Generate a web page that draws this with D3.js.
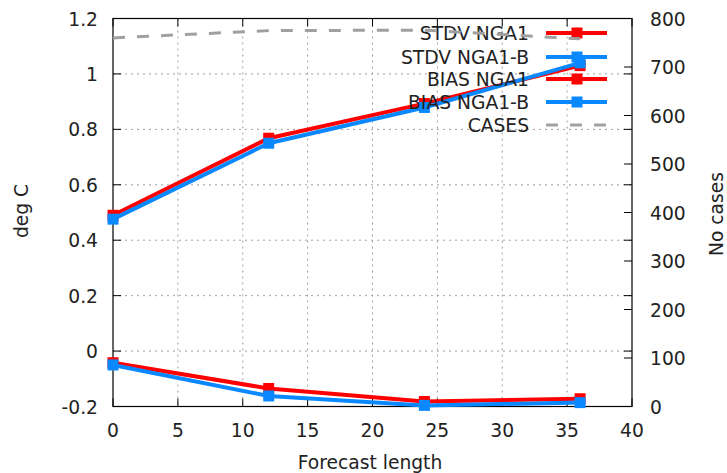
<!DOCTYPE html>
<html>
<head>
<meta charset="utf-8">
<script src="https://cdn.jsdelivr.net/npm/d3@7"></script>
<style>
  body { margin: 0; background: #fff; }
  text { font-family: "DejaVu Sans", sans-serif; fill: #222; }
</style>
</head>
<body>
<svg id="chart" width="727" height="473"></svg>
<script>
// forecast lengths (hours)
var leads = [0, 12, 24, 36];

// series values
var stdvNga1  = [0.490, 0.768, 0.893, 1.030];
var stdvNga1b = [0.476, 0.750, 0.879, 1.040];
var biasNga1  = [-0.042, -0.135, -0.182, -0.172];
var biasNga1b = [-0.050, -0.162, -0.196, -0.186];
var cases     = [760, 775, 776, 758];

var seriesNames = ["STDV NGA1", "STDV NGA1-B", "BIAS NGA1", "BIAS NGA1-B", "CASES"];
var xTicks  = [0, 5, 10, 15, 20, 25, 30, 35, 40];
var yTicks  = [-0.2, 0, 0.2, 0.4, 0.6, 0.8, 1, 1.2];
var y2Ticks = [0, 100, 200, 300, 400, 500, 600, 700, 800];

var svg = d3.select("#chart");
var L = 113, R = 632, T = 18.5, B = 406.5;
var fs = "18.7px";

var x  = d3.scaleLinear().domain([0, 40]).range([L, R]);
var y  = d3.scaleLinear().domain([-0.2, 1.2]).range([B, T]);
var y2 = d3.scaleLinear().domain([0, 800]).range([B, T]);

var red = "#ff0000", blue = "#0a88ff", grey = "#a0a0a0";

// grid
var grid = svg.append("g")
  .attr("stroke", grey).attr("stroke-width", 1).attr("stroke-dasharray", "2,4");
grid.selectAll(".gx").data(xTicks.slice(1, -1)).enter().append("line")
  .attr("x1", d => x(d)).attr("x2", d => x(d)).attr("y1", T).attr("y2", B);
grid.selectAll(".gy").data(yTicks.slice(1, -1)).enter().append("line")
  .attr("x1", L).attr("x2", R).attr("y1", d => y(d)).attr("y2", d => y(d));

// ticks (inward, mirrored like gnuplot)
var tk = svg.append("g").attr("stroke", "#000").attr("stroke-width", 1);
var tl = 8;
xTicks.forEach(function (d) {
  tk.append("line").attr("x1", x(d)).attr("x2", x(d)).attr("y1", B).attr("y2", B - tl);
  tk.append("line").attr("x1", x(d)).attr("x2", x(d)).attr("y1", T).attr("y2", T + tl);
});
yTicks.forEach(function (d) {
  tk.append("line").attr("x1", L).attr("x2", L + tl).attr("y1", y(d)).attr("y2", y(d));
  tk.append("line").attr("x1", R).attr("x2", R - tl).attr("y1", y(d)).attr("y2", y(d));
});
y2Ticks.forEach(function (d) {
  tk.append("line").attr("x1", R).attr("x2", R - tl).attr("y1", y2(d)).attr("y2", y2(d));
});

// frame
svg.append("rect").attr("x", L).attr("y", T).attr("width", R - L).attr("height", B - T)
  .attr("fill", "none").attr("stroke", "#000").attr("stroke-width", 1.2);

// tick labels
svg.selectAll(".xl").data(xTicks).enter().append("text")
  .attr("x", d => x(d)).attr("y", 437).attr("text-anchor", "middle")
  .style("font-size", fs).text(d => d);
svg.selectAll(".yl").data(yTicks).enter().append("text")
  .attr("x", 98).attr("y", d => y(d) + 7).attr("text-anchor", "end")
  .style("font-size", fs).text(d => d);
svg.selectAll(".y2l").data(y2Ticks).enter().append("text")
  .attr("x", 650).attr("y", d => y2(d) + 7).attr("text-anchor", "start")
  .style("font-size", fs).text(d => d);

// axis titles
svg.append("text").attr("x", 370).attr("y", 469).attr("text-anchor", "middle")
  .style("font-size", fs).text("Forecast length");
svg.append("text").attr("transform", "translate(28,211) rotate(-90)")
  .attr("text-anchor", "middle").style("font-size", fs).text("deg C");
svg.append("text").attr("transform", "translate(723,214) rotate(-90)")
  .attr("text-anchor", "middle").style("font-size", fs).text("No cases");

var line = d3.line().x((d, i) => x(leads[i]));
var ms = 11;
var keyY = [33, 57, 79, 102, 125];

function keyEntry(i, color, dashed) {
  var k = svg.append("g");
  k.append("text").attr("x", 529).attr("y", keyY[i] + 7).attr("text-anchor", "end")
    .style("font-size", fs).text(seriesNames[i]);
  k.append("line").attr("x1", 546).attr("x2", 607).attr("y1", keyY[i]).attr("y2", keyY[i])
    .attr("stroke", color).attr("stroke-width", dashed ? 3 : 4)
    .attr("stroke-dasharray", dashed ? "12,12" : null);
  if (!dashed) {
    k.append("rect").attr("x", 577 - ms / 2).attr("y", keyY[i] - ms / 2)
      .attr("width", ms).attr("height", ms).attr("fill", color);
  }
}

function plotSeries(vals, scale, color) {
  svg.append("path").datum(vals)
    .attr("d", line.y(d => scale(d)))
    .attr("fill", "none").attr("stroke", color).attr("stroke-width", 4);
  svg.selectAll(null).data(vals).enter().append("rect")
    .attr("x", (d, i) => x(leads[i]) - ms / 2).attr("y", d => scale(d) - ms / 2)
    .attr("width", ms).attr("height", ms).attr("fill", color);
}

keyEntry(0, red);  plotSeries(stdvNga1, y, red);
keyEntry(1, blue); plotSeries(stdvNga1b, y, blue);
keyEntry(2, red);  plotSeries(biasNga1, y, red);
keyEntry(3, blue); plotSeries(biasNga1b, y, blue);
keyEntry(4, grey, true);
svg.append("path").datum(cases)
  .attr("d", line.y(d => y2(d)))
  .attr("fill", "none").attr("stroke", grey).attr("stroke-width", 3)
  .attr("stroke-dasharray", "12,12");
</script>
</body>
</html>
